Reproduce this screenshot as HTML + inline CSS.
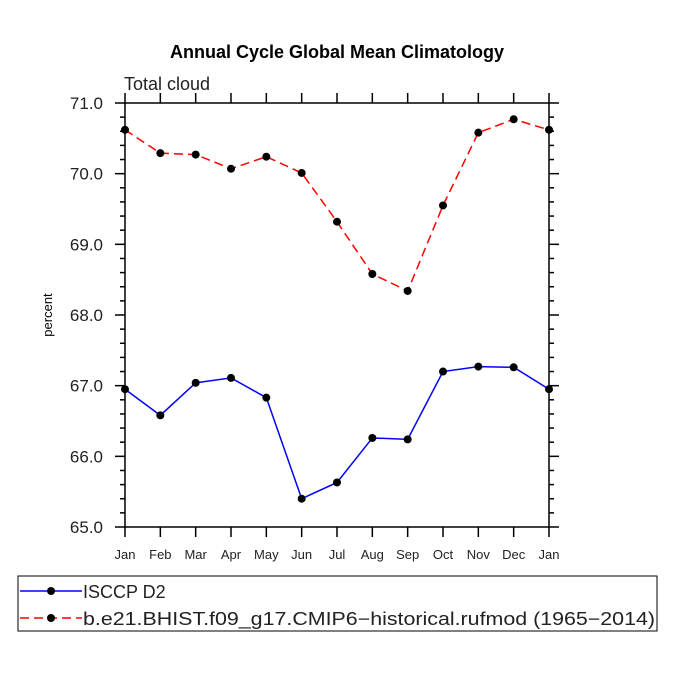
<!DOCTYPE html>
<html><head><meta charset="utf-8"><style>
body{margin:0;background:#fff}
svg{display:block;font-family:"Liberation Sans",sans-serif}
</style></head><body>
<svg id="chart" width="675" height="675" viewBox="0 0 675 675">
<text x="337" y="58" text-anchor="middle" font-size="18" font-weight="bold">Annual Cycle Global Mean Climatology</text>
<text x="124" y="90" font-size="18" fill="#222">Total cloud</text>
<text transform="translate(52,315) rotate(-90)" text-anchor="middle" font-size="13">percent</text>
<g id="axes"></g>
<g id="series"></g>
<g>
<rect x="18" y="576" width="639" height="55" fill="none" stroke="#000" stroke-width="1"/>
<line x1="20" y1="591" x2="82" y2="591" stroke="#0000ff" stroke-width="1.5"/>
<circle cx="51" cy="591" r="4" fill="#000"/>
<text x="83" y="598" font-size="18" fill="#222">ISCCP D2</text>
<line x1="20" y1="618" x2="82" y2="618" stroke="#ff0000" stroke-width="1.5" stroke-dasharray="9,5"/>
<circle cx="51" cy="618" r="4" fill="#000"/>
<text x="83" y="625" font-size="18" fill="#222" textLength="572" lengthAdjust="spacingAndGlyphs">b.e21.BHIST.f09_g17.CMIP6−historical.rufmod (1965−2014)</text>
</g>
</svg>
<script>
const months = ["Jan","Feb","Mar","Apr","May","Jun","Jul","Aug","Sep","Oct","Nov","Dec","Jan"];
const yTicks = [65,66,67,68,69,70,71];
const isccp = [66.95,66.58,67.04,67.11,66.83,65.40,65.63,66.26,66.24,67.20,67.27,67.26,66.95];
const model = [70.62,70.29,70.27,70.07,70.24,70.01,69.32,68.58,68.34,69.55,70.58,70.77,70.62];
const NS="http://www.w3.org/2000/svg";
const X0=125,X1=549,Y0=527,Y1=103,YMIN=65,YMAX=71;
const xs=i=>X0+(X1-X0)*i/(months.length-1);
const ys=v=>Y0-(v-YMIN)/(YMAX-YMIN)*(Y0-Y1);
function mk(t,a,p){const e=document.createElementNS(NS,t);for(const k in a)e.setAttribute(k,a[k]);p.appendChild(e);return e;}
const ax=document.getElementById('axes');
const fr=mk('rect',{x:X0,y:Y1,width:X1-X0,height:Y0-Y1,fill:'none',stroke:'#000','stroke-width':1.5},ax);


months.forEach((m,i)=>{
  const x=xs(i);
  mk('line',{x1:x,y1:Y0,x2:x,y2:Y0+10,stroke:'#000','stroke-width':1.5},ax);
  mk('line',{x1:x,y1:Y1,x2:x,y2:Y1-10,stroke:'#000','stroke-width':1.5},ax);
  const t=mk('text',{x:x,y:Y0+32,'text-anchor':'middle','font-size':13,fill:'#222'},ax);
  t.textContent=m;
  
  
});
for(let v=YMIN;v<=YMAX+1e-9;v+=0.2){
  const y=ys(v);const major=Math.abs(v-Math.round(v))<1e-6;const L=major?10:5;
  mk('line',{x1:X0,y1:y,x2:X0-L,y2:y,stroke:'#000','stroke-width':1.5},ax);
  mk('line',{x1:X1,y1:y,x2:X1+L,y2:y,stroke:'#000','stroke-width':1.5},ax);
}
yTicks.forEach(v=>{
  const t=mk('text',{x:X0-22,y:ys(v)+6,'text-anchor':'end','font-size':17,fill:'#222'},ax);
  t.textContent=v.toFixed(1);
  
  
});
const sg=document.getElementById('series');
function draw(vals,color,dash,name){
  const p=mk('polyline',{points:vals.map((v,i)=>xs(i)+','+ys(v)).join(' '),fill:'none',stroke:color,'stroke-width':1.5},sg);
  if(dash)p.setAttribute('stroke-dasharray',dash);
  
  
  vals.forEach((v,i)=>{
    const c=mk('circle',{cx:xs(i),cy:ys(v),r:4,fill:'#000'},sg);
    
    
  });
}
draw(model,'#ff0000','9,5','model');
draw(isccp,'#0000ff',null,'isccp');
</script>
</body></html>
